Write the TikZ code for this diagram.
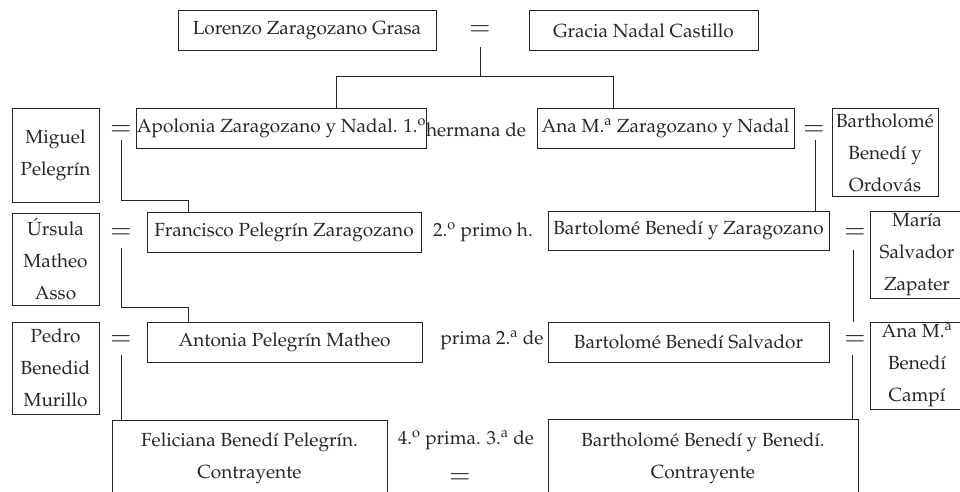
\documentclass[tikz,border=0pt]{standalone}
\usepackage[T1]{fontenc}
\usepackage{mathpazo}
\definecolor{ink}{HTML}{262626}
\newcommand\myfsz{\fontsize{19}{32}\selectfont}
\newcommand\myfeq{\fontsize{26}{26}\selectfont}
\tikzset{
  pbox/.style={draw, inner sep=0pt, minimum height=40pt, font=\myfsz},
  mbox/.style={draw, align=center, inner sep=0pt, font=\myfsz},
  lbl/.style={inner sep=0pt, font=\myfsz},
  eqs/.style={inner sep=0pt, font=\myfeq},
}
\begin{document}
\begin{tikzpicture}[x=1pt,y=-1pt,line width=1pt,color=ink]
\useasboundingbox (0,0) rectangle (960,492);
\clip (0,0) rectangle (960,492);
% row 1
\node[pbox, minimum width=258pt] (lor) at (307,31) {Lorenzo Zaragozano Grasa};
\node[pbox, minimum width=229pt] (gra) at (643.5,31) {Gracia Nadal Castillo};
\node[eqs] (eq0) at (480,31) {$=$};
% row 2
\node[mbox, minimum width=87pt, minimum height=93pt] (mig) at (55.5,155.5) {Miguel\\Pelegr\'{\i}n};
\node[eqs] (eq1) at (121,131) {$=$};
\node[pbox, minimum width=275pt, minimum height=39pt] (apo) at (281.5,128.5) {Apolonia Zaragozano y Nadal. 1.\textsuperscript{o}};
\node[lbl] (her) at (476,130) {hermana de};
\node[pbox, minimum width=257pt, minimum height=39pt] (ana) at (665.5,128.5) {Ana M.\textsuperscript{a} Zaragozano y Nadal};
\node[eqs] (eq2) at (814,131) {$=$};
\node[mbox, minimum width=106pt, minimum height=87pt] (bor) at (885,152.5) {Bartholom\'e\\Bened\'{\i} y\\Ordov\'as};
% row 3
\node[mbox, minimum width=87pt, minimum height=92pt] (urs) at (55.5,259) {\'Ursula\\Matheo\\Asso};
\node[eqs] (eq3) at (121,234) {$=$};
\node[pbox, minimum width=274pt] (fra) at (284,232) {Francisco Pelegr\'{\i}n Zaragozano};
\node[lbl] (pri2) at (483,232) {2.\textsuperscript{o} primo h.};
\node[pbox, minimum width=281pt, minimum height=39pt] (bbz) at (688.5,230.5) {Bartolom\'e Bened\'{\i} y Zaragozano};
\node[eqs] (eq4) at (855,234) {$=$};
\node[mbox, minimum width=94pt, minimum height=87pt] (mar) at (917,254.5) {Mar\'{\i}a\\Salvador\\Zapater};
% row 4
\node[mbox, minimum width=87pt, minimum height=92pt] (ped) at (55.5,368) {Pedro\\Benedid\\Murillo};
\node[eqs] (eq5) at (121,341) {$=$};
\node[pbox, minimum width=275pt] (ant) at (284.5,342) {Antonia Pelegr\'{\i}n Matheo};
\node[lbl] (pri3) at (492,340) {prima 2.\textsuperscript{a} de};
\node[pbox, minimum width=281pt] (bbs) at (688.5,342) {Bartolom\'e Bened\'{\i} Salvador};
\node[eqs] (eq6) at (855,341) {$=$};
\node[mbox, minimum width=94pt, minimum height=87pt] (anb) at (917,365.5) {Ana M.\textsuperscript{a}\\Bened\'{\i}\\Camp\'{\i}};
% row 5
\node[mbox, minimum width=275pt, minimum height=76pt] (fel) at (249.5,458) {Feliciana Bened\'{\i} Pelegr\'{\i}n.\\Contrayente};
\node[lbl] (pri4) at (466,440) {4.\textsuperscript{o} prima. 3.\textsuperscript{a} de};
\node[eqs] (eq7) at (460,479) {$=$};
\node[mbox, minimum width=310pt, minimum height=78pt] (bbb) at (703,458) {Bartholom\'e Bened\'{\i} y Bened\'{\i}.\\Contrayente};
% connectors
\coordinate (bl) at (336,77);
\coordinate (br) at (613,77);
\draw ([yshift=-16pt]eq0.center) -- (eq0 |- bl);
\draw (bl |- apo.north) -- (bl) -- (br) -- (br |- ana.north);
\coordinate (j1) at (188,200);
\draw ([yshift=-9pt]eq1.center) |- (j1) -- (j1 |- fra.north);
\draw ([yshift=-9pt,xshift=1pt]eq2.center) -- ([xshift=1pt]eq2 |- bbz.north);
\coordinate (j2) at (188,307);
\draw ([yshift=-14pt]eq3.center) |- (j2) -- (j2 |- ant.north);
\draw ([yshift=-16pt,xshift=-2pt]eq4.center) -- ([xshift=-2pt]eq4 |- bbs.north);
\draw ([yshift=-14pt]eq5.center) -- (eq5 |- fel.north);
\draw ([yshift=-14pt,xshift=-3pt]eq6.center) -- ([xshift=-3pt]eq6 |- bbb.north);
\end{tikzpicture}
\end{document}
